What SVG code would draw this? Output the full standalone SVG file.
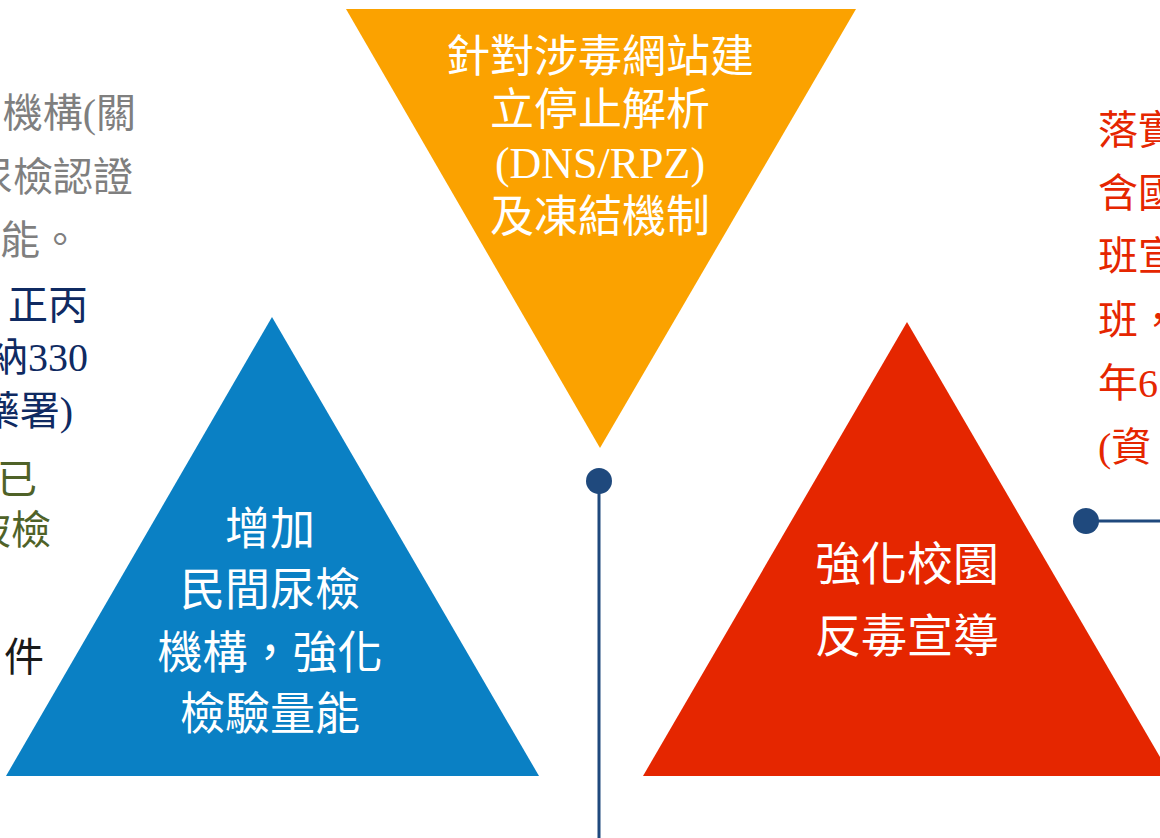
<svg xmlns="http://www.w3.org/2000/svg" width="1160" height="838" viewBox="0 0 1160 838">
<style>
text{font-family:"Liberation Serif","Noto Sans CJK TC",serif;}
.w{fill:#ffffff;text-anchor:middle;}
.gray{fill:#7f7f7f;font-size:40px;text-anchor:end;}
.navy{fill:#0f2a62;font-size:40px;text-anchor:end;}
.green{fill:#4f6228;font-size:40px;text-anchor:end;}
.black{fill:#1a1a1a;font-size:40px;text-anchor:end;}
.red{fill:#e52600;font-size:40px;}
.line{stroke:#1f497d;stroke-width:3;fill:none;}
.dot{fill:#1f497d;}
</style>
<rect width="1160" height="838" fill="#ffffff"/>
<g id="left-text">
<text class="gray" x="136" y="127">機構(關</text>
<text class="gray" x="133" y="191">尿檢認證</text>
<text class="gray" x="80" y="254">能。</text>
<text class="navy" x="88" y="319">正丙</text>
<text class="navy" x="88" y="371">納330</text>
<text class="navy" x="73" y="425">藥署)</text>
<text class="green" x="37" y="493">已</text>
<text class="green" x="51" y="544">被檢</text>
<text class="black" x="44" y="671">件</text>
</g>
<g id="right-text">
<text class="red" x="1098" y="144">落實</text>
<text class="red" x="1098" y="207">含國</text>
<text class="red" x="1098" y="270">班宣</text>
<text class="red" x="1098" y="334">班，</text>
<text class="red" x="1098" y="397">年6</text>
<text class="red" x="1098" y="461">(資</text>
</g>
<g id="node-dns">
<polygon points="346,9 856,9 600,448" fill="#fba200"/>
<text class="w" font-size="44" x="600" y="72">針對涉毒網站建</text>
<text class="w" font-size="44" x="600" y="125">立停止解析</text>
<text class="w" font-size="44" x="600" y="178">(DNS/RPZ)</text>
<text class="w" font-size="44" x="600" y="232">及凍結機制</text>
</g>
<g id="node-urine">
<polygon points="272,317 539,776 6,776" fill="#0a80c4"/>
<text class="w" font-size="45" x="270" y="545">增加</text>
<text class="w" font-size="45" x="270" y="606">民間尿檢</text>
<text class="w" font-size="45" x="270" y="669">機構，強化</text>
<text class="w" font-size="45" x="270" y="730">檢驗量能</text>
</g>
<g id="node-campus">
<polygon points="907,322 1171,776 643,776" fill="#e52600"/>
<text class="w" font-size="46" x="907" y="580">強化校園</text>
<text class="w" font-size="46" x="907" y="652">反毒宣導</text>
</g>
<g id="connectors">
<line class="line" x1="599" y1="481" x2="599" y2="838"/>
<circle class="dot" cx="599" cy="481" r="13"/>
<line class="line" x1="1086" y1="521" x2="1160" y2="521"/>
<circle class="dot" cx="1086" cy="521" r="13"/>
</g>
</svg>
